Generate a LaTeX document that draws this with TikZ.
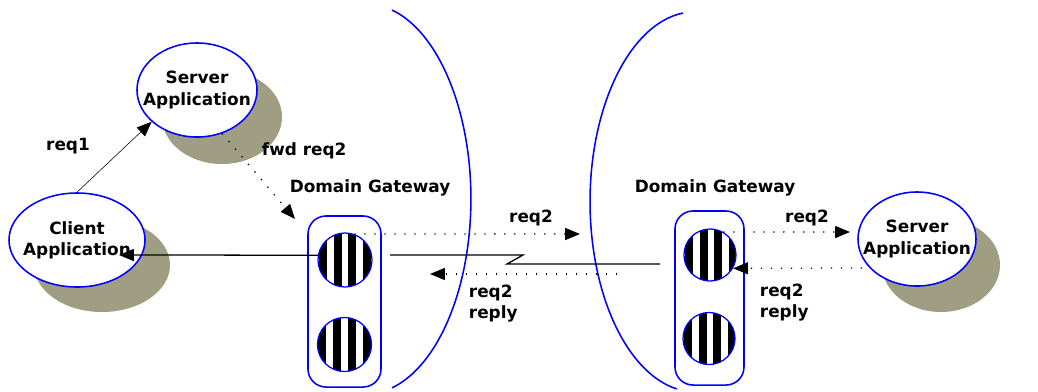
\documentclass[tikz,border=0pt]{standalone}
\usepackage{fontspec}
\setmainfont{DejaVu Sans}
\usetikzlibrary{shapes.geometric,arrows.meta}
\definecolor{shadowgray}{RGB}{160,158,130}
\tikzset{
	app/.style={ellipse,draw=blue,fill=white,line width=1.1pt,align=center,inner xsep=-10pt,inner ysep=0pt,minimum height=2.35cm},
	gwbox/.style={draw=blue,line width=1.1pt,rounded corners=0.45cm,minimum width=1.8cm,minimum height=4.3cm},
	hole/.style={circle,draw=blue,line width=0.9pt,minimum size=1.35cm,inner sep=0pt,
		path picture={\foreach \k in {0,1,2,3}
			\fill ([xshift={\k*0.37cm+0.02cm}]path picture bounding box.south west) rectangle ([xshift={\k*0.37cm+0.22cm}]path picture bounding box.north west);}},
	tip/.style={-{Triangle[length=10.5pt,width=8.5pt]}},
	dots/.style={line width=0.9pt,dash pattern=on 0.9pt off 6.2pt},
	wire/.style={line width=0.9pt},
	border/.style={draw=blue,line width=1.1pt}
}
\begin{document}
\begin{tikzpicture}[x=0.025cm,y=-0.025cm,font=\fontsize{12}{15}\selectfont\bfseries]
	\useasboundingbox (0,0) rectangle (1038,391);
	\draw[border] (392,10) arc[start angle=75.6,end angle=-75.6,x radius=2.625cm,y radius=4.875cm];
	\draw[border] (683,13) arc[start angle=96.6,end angle=260,x radius=2.625cm,y radius=4.75cm];
	\fill[shadowgray] (222,117) ellipse [x radius=60,y radius=47];
	\fill[shadowgray] (102,265) ellipse [x radius=68,y radius=47];
	\fill[shadowgray] (941,265) ellipse [x radius=59,y radius=47];
	\node[app,minimum width=3cm] (sa) at (197,90) {Server\\Application};
	\node[app,minimum width=3.4cm] (ca) at (77,240) {Client\\Application};
	\node[app,minimum width=2.95cm] (sb) at (917,239) {Server\\Application};
	\node[gwbox,minimum width=1.825cm,minimum height=4.275cm] (lgw) at (344.5,301.5) {};
	\node[gwbox,minimum width=1.725cm,minimum height=4.35cm] (rgw) at (709.5,298) {};
	\node[hole] (l1) at (345,260) {};
	\node[hole] (l2) at (344.5,344.5) {};
	\node[hole,minimum size=1.3cm] (r1) at (710,255) {};
	\node[hole,minimum size=1.3cm] (r2) at (709,338.5) {};
	\coordinate (fwdtip) at (295,219);
	\coordinate (clitip) at (119,255);
	\coordinate (wanl) at (390,255);
	\coordinate (wanr) at (660,264);
	\coordinate (reqA) at (580,234);
	\coordinate (reqB) at (850,232);
	\coordinate (repAs) at (617,274);
	\coordinate (repAe) at (430,274);
	\coordinate (repB) at (862,268);
	\draw[thin,tip] (ca.north) -- (sa.215);
	\draw[dots,tip] (sa.-60) -- (fwdtip);
	\draw[wire,tip] (l1.170) -- (clitip);
	\draw[wire] (wanl) -- (523,255) -- (507,264) -- (wanr);
	\draw[dots,tip] (l1.70) -- (reqA);
	\draw[dots,tip] (r1.60) -- (reqB);
	\draw[dots,tip] (repAs) -- (repAe);
	\draw[dots,tip] (repB) -- (r1.-30);
	\node (lreq1) at (68,146) {req1};
	\node[anchor=west] (lfwd) at (257,151) {fwd req2};
	\node (ldgl) at (370,188) {Domain Gateway};
	\node (ldgr) at (715,188) {Domain Gateway};
	\node (lreqa) at (531,218) {req2};
	\node[anchor=west,align=left] (lrepa) at (464,304) {req2\\reply};
	\node (lreqb) at (807,218) {req2};
	\node[anchor=west,align=left] (lrepb) at (755,303) {req2\\reply};
\end{tikzpicture}
\end{document}
